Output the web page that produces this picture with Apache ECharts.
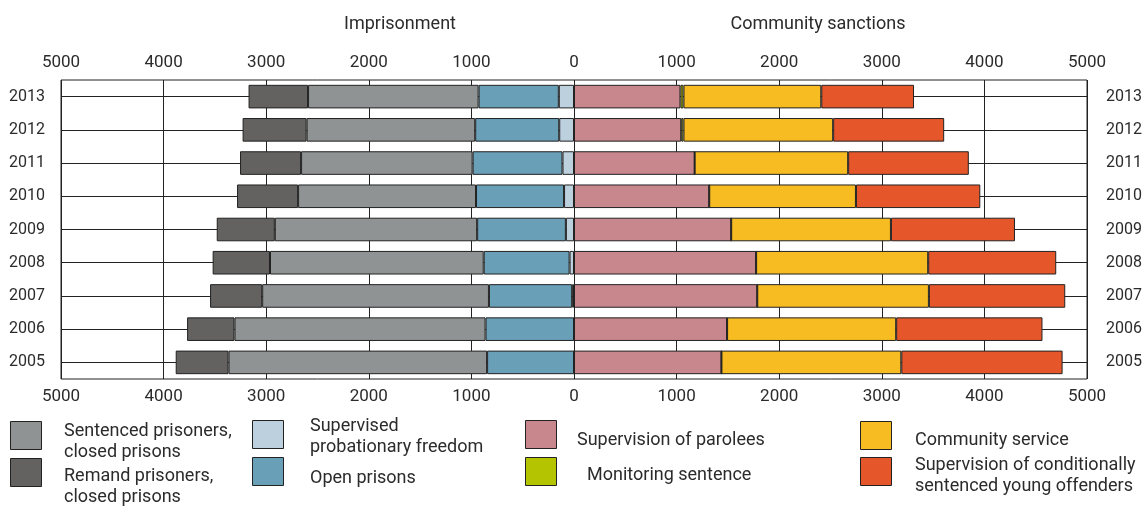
<!DOCTYPE html>
<html>
<head>
<meta charset="utf-8">
<script src="https://cdn.jsdelivr.net/npm/echarts@6/dist/echarts.min.js"></script>
<style>
html,body{margin:0;padding:0;background:#fff;}
#chart{width:1144px;height:509px;}
</style>
</head>
<body>
<div id="chart"></div>
<script>
// ---- data ----
const years = ['2005','2006','2007','2008','2009','2010','2011','2012','2013'];
// Imprisonment (drawn to the left)
const probationaryFreedom = [0, 0, 18, 43, 79, 97, 112, 144, 148];
const openPrisons        = [847, 862, 811, 837, 865, 858, 876, 819, 782];
const sentencedClosed    = [2520, 2447, 2210, 2083, 1972, 1734, 1672, 1643, 1662];
const remandClosed       = [515, 462, 508, 559, 566, 595, 595, 624, 580];
// Community sanctions (drawn to the right)
const parolees           = [1437, 1492, 1786, 1775, 1532, 1318, 1176, 1045, 1038];
const monitoring         = [0, 0, 0, 0, 0, 0, 0, 22, 29];
const communityService   = [1753, 1648, 1673, 1677, 1557, 1430, 1496, 1459, 1343];
const youngOffenders     = [1572, 1426, 1329, 1248, 1209, 1212, 1176, 1082, 904];
const axisTicks = [-5000, 5000, 1000];
const titles = ['Imprisonment', 'Community sanctions'];

const names = {
  sent: 'Sentenced prisoners,\nclosed prisons',
  rem: 'Remand prisoners,\nclosed prisons',
  spf: 'Supervised\nprobationary freedom',
  open: 'Open prisons',
  par: 'Supervision of parolees',
  mon: 'Monitoring sentence',
  cs: 'Community service',
  yo: 'Supervision of conditionally\nsentenced young offenders'
};
const colors = {
  sent: '#8f9394', rem: '#636260', spf: '#bdd0de', open: '#6a9fb8',
  par: '#c8868d', mon: '#b5c400', cs: '#f7bc22', yo: '#e5562a'
};

const FONT = 'Roboto';
const TXT = '#2b2b2b';
const neg = a => a.map(v => -v);
function bar(key, data) {
  return {
    name: names[key], type: 'bar', stack: 'all', data: data,
    barWidth: '71%',
    itemStyle: { color: colors[key], borderColor: '#222', borderWidth: 1 },
    emphasis: { disabled: true }
  };
}

function xAxis(pos, show) {
  return {
    type: 'value', position: pos, min: axisTicks[0], max: axisTicks[1], interval: axisTicks[2],
    axisLine: { show: false }, axisTick: { show: false },
    axisLabel: { fontFamily: FONT, fontSize: 17, color: TXT, margin: 9, formatter: v => Math.abs(v) },
    splitLine: { show: show, lineStyle: { color: '#222', width: 1 } }
  };
}
function yAxis(pos, show, margin) {
  return {
    type: 'category', position: pos, data: years,
    axisLine: { show: false }, axisTick: { show: false },
    axisLabel: { fontFamily: FONT, fontSize: 16, color: TXT, margin: margin },
    splitLine: { show: show, alignWithLabel: true, lineStyle: { color: '#222', width: 1 } }
  };
}

// legend (graphic)
const legendItems = [
  ['sent', 10, 421, 64, 442],
  ['rem', 10, 458, 64, 487],
  ['spf', 252, 420, 310, 437],
  ['open', 252, 457, 310, 478],
  ['par', 525, 420, 577, 440],
  ['mon', 525, 457, 587, 475],
  ['cs', 860, 421, 915, 440],
  ['yo', 860, 457, 915, 476]
];
const graphics = [];
legendItems.forEach(([k, rx, ry, tx, ty]) => {
  graphics.push({ type: 'rect', left: rx, top: ry, shape: { width: 31, height: 28 },
    style: { fill: colors[k], stroke: '#222', lineWidth: 1 } });
  graphics.push({ type: 'text', x: tx, y: ty,
    style: { text: names[k], fontFamily: FONT, fontSize: 18, fill: TXT, lineHeight: 21.5,
      textVerticalAlign: 'middle' } });
});

const chart = echarts.init(document.getElementById('chart'), null, { renderer: 'canvas' });
chart.setOption({
  animation: false,
  title: [
    { text: titles[0], left: 395, top: 10, textAlign: 'center',
      textStyle: { fontFamily: FONT, fontSize: 18, fontWeight: 'normal', color: TXT } },
    { text: titles[1], left: 813, top: 10, textAlign: 'center',
      textStyle: { fontFamily: FONT, fontSize: 18, fontWeight: 'normal', color: TXT } }
  ],
  grid: { left: 61, right: 57, top: 80, bottom: 130, show: true, borderColor: '#222', borderWidth: 1,
    backgroundColor: 'transparent', containLabel: false, outerBoundsMode: 'none' },
  xAxis: [xAxis('bottom', true), xAxis('top', false)],
  yAxis: [yAxis('left', true, 16), yAxis('right', false, 19)],
  series: [
    bar('spf', neg(probationaryFreedom)),
    bar('open', neg(openPrisons)),
    bar('sent', neg(sentencedClosed)),
    bar('rem', neg(remandClosed)),
    bar('par', parolees),
    bar('mon', monitoring),
    bar('cs', communityService),
    bar('yo', youngOffenders)
  ],
  graphic: graphics
});
</script>
</body>
</html>
